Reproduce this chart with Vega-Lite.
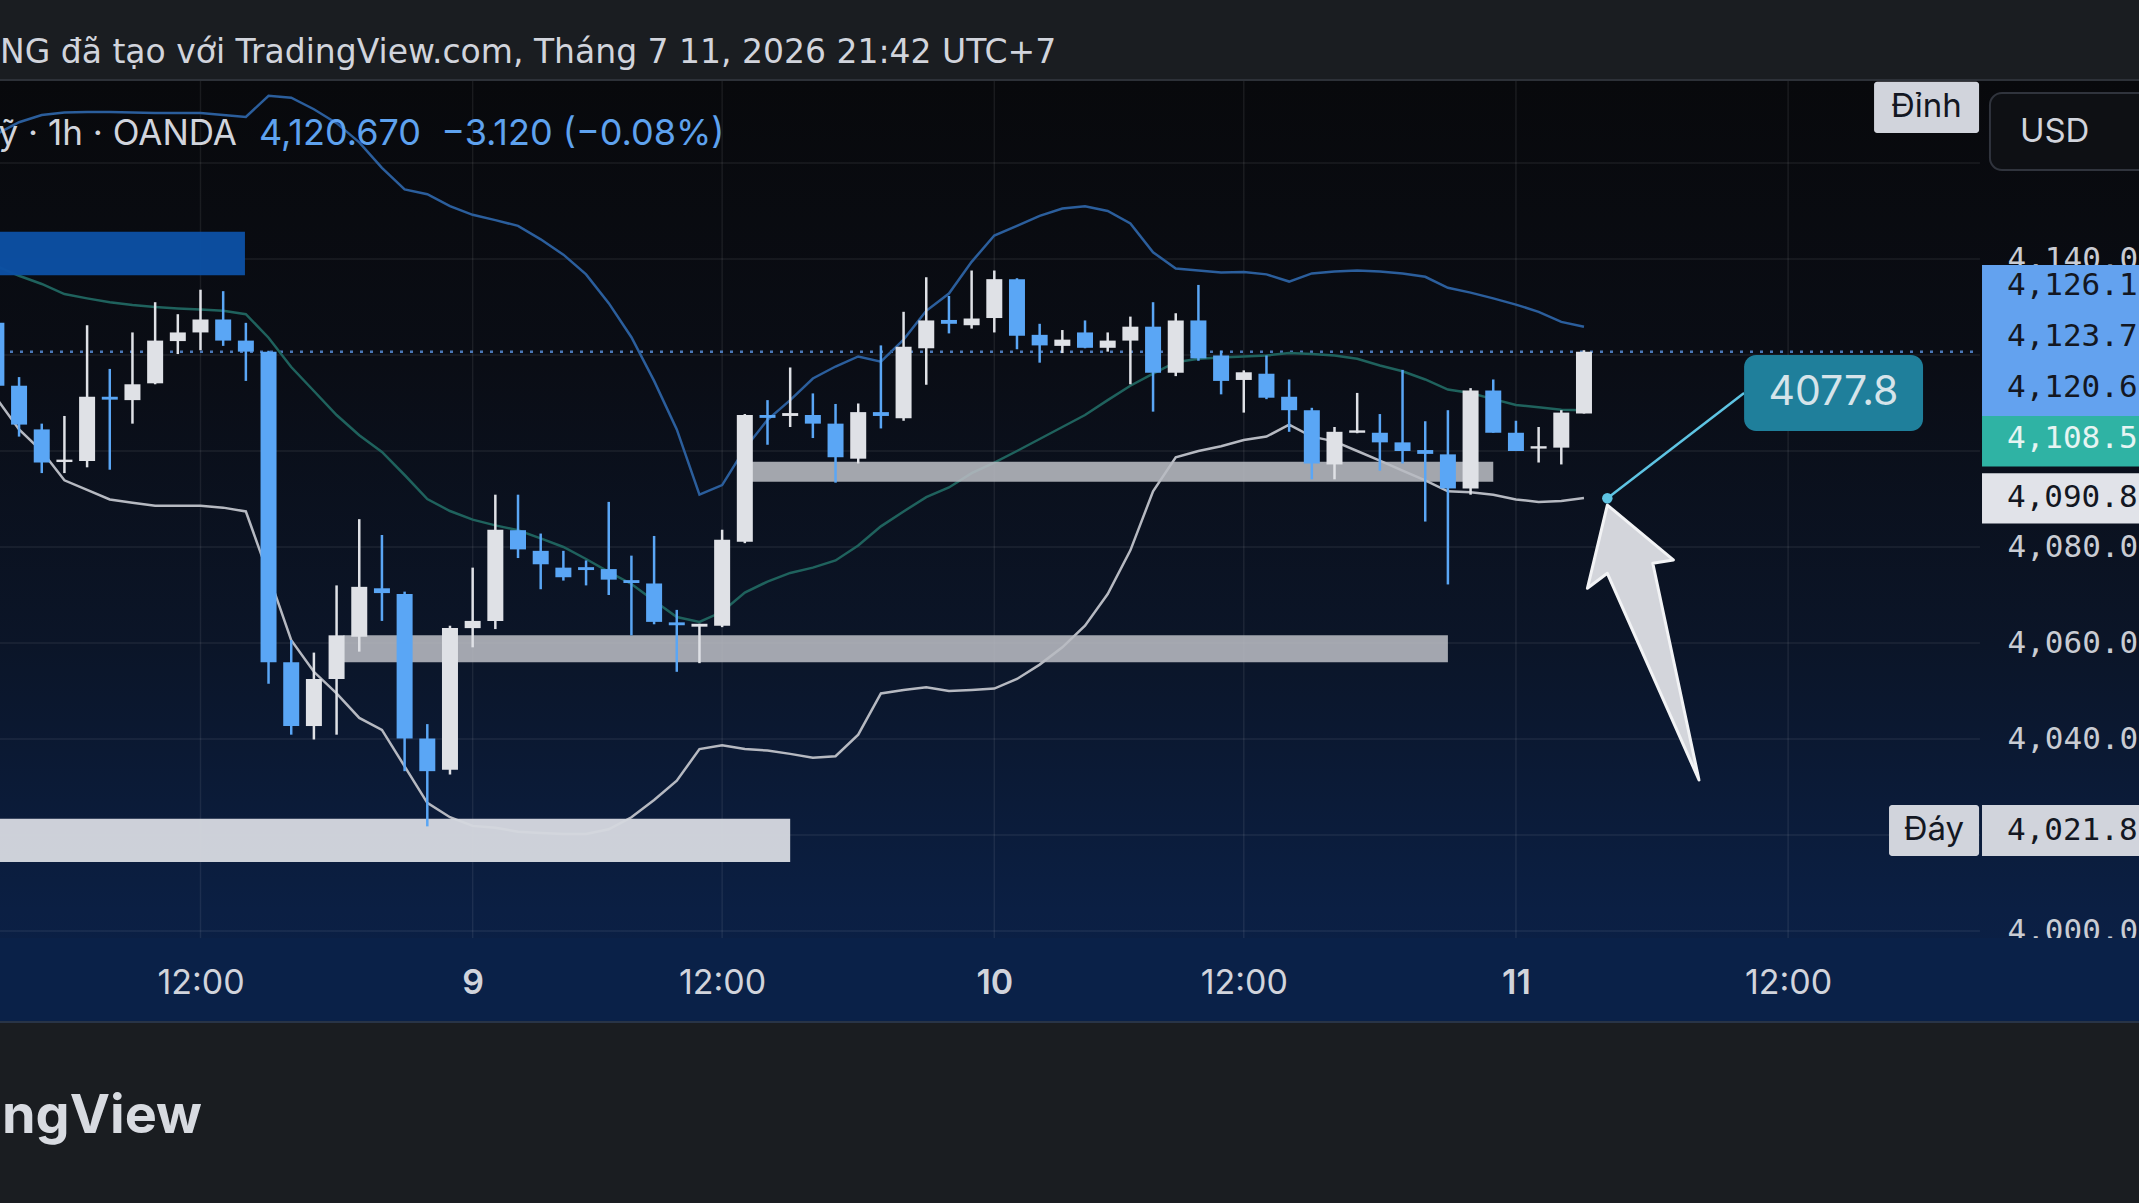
{
 "$schema": "https://vega.github.io/schema/vega-lite/v6.json",
 "width": 2139, "height": 942,
 "autosize": "none",
 "padding": {"left": 0, "top": 80, "right": 0, "bottom": 181},
 "background": "#1a1d21",
 "config": {
  "view": {"stroke": null, "fill": {"gradient": "linear", "x1": 0, "y1": 0, "x2": 0, "y2": 1,
    "stops": [{"offset": 0, "color": "#08090c"}, {"offset": 0.3, "color": "#0a0d15"}, {"offset": 0.6, "color": "#0b1528"}, {"offset": 0.88, "color": "#0b1f43"}, {"offset": 1, "color": "#0a2148"}]}},
  "axis": {"titleColor": "rgba(0,0,0,0)", "titleFontSize": 1},
  "text": {"font": "Inter"}
 },
 "datasets": {
  "bars": [
   {"i":-9,"o":4126.7,"h":4128.0,"l":4112.8,"c":4113.6,"u":4166.0,"m":4138.5,"b":4111.0},
   {"i":-8,"o":4113.6,"h":4115.4,"l":4103.0,"c":4105.5,"u":4168.5,"m":4136.5,"b":4104.5},
   {"i":-7,"o":4104.5,"h":4105.7,"l":4095.4,"c":4097.6,"u":4170.0,"m":4134.8,"b":4100.0},
   {"i":-6,"o":4097.7,"h":4107.3,"l":4095.4,"c":4098.2,"u":4170.5,"m":4132.7,"b":4093.9},
   {"i":-5,"o":4097.9,"h":4126.2,"l":4096.6,"c":4111.3,"u":4170.6,"m":4131.8,"b":4091.9},
   {"i":-4,"o":4111.3,"h":4117.1,"l":4096.1,"c":4110.7,"u":4170.6,"m":4131.0,"b":4089.9},
   {"i":-3,"o":4110.6,"h":4124.7,"l":4105.7,"c":4113.9,"u":4170.5,"m":4130.4,"b":4089.2},
   {"i":-2,"o":4114.1,"h":4131.0,"l":4113.9,"c":4123.0,"u":4170.4,"m":4130.0,"b":4088.6},
   {"i":-1,"o":4122.9,"h":4128.5,"l":4120.2,"c":4124.7,"u":4170.4,"m":4129.7,"b":4088.6},
   {"i":0,"o":4124.7,"h":4133.6,"l":4121.0,"c":4127.4,"u":4170.4,"m":4129.5,"b":4088.6},
   {"i":1,"o":4127.4,"h":4133.3,"l":4121.9,"c":4123.0,"u":4170.0,"m":4129.2,"b":4088.2},
   {"i":2,"o":4123.0,"h":4126.7,"l":4114.6,"c":4120.7,"u":4169.6,"m":4128.5,"b":4087.4},
   {"i":3,"o":4120.7,"h":4120.9,"l":4051.5,"c":4056.0,"u":4174.0,"m":4123.6,"b":4074.2},
   {"i":4,"o":4056.0,"h":4060.6,"l":4040.9,"c":4042.7,"u":4173.6,"m":4117.5,"b":4060.6},
   {"i":5,"o":4042.7,"h":4058.0,"l":4039.9,"c":4052.5,"u":4171.2,"m":4112.5,"b":4054.0},
   {"i":6,"o":4052.5,"h":4072.0,"l":4040.9,"c":4061.6,"u":4168.3,"m":4107.5,"b":4049.5},
   {"i":7,"o":4061.3,"h":4085.8,"l":4058.2,"c":4071.7,"u":4164.3,"m":4103.3,"b":4044.4},
   {"i":8,"o":4071.4,"h":4082.5,"l":4064.6,"c":4070.4,"u":4159.0,"m":4099.8,"b":4041.9},
   {"i":9,"o":4070.2,"h":4070.7,"l":4033.3,"c":4040.1,"u":4154.5,"m":4095.0,"b":4034.3},
   {"i":10,"o":4040.1,"h":4043.1,"l":4021.8,"c":4033.3,"u":4153.5,"m":4090.0,"b":4026.7},
   {"i":11,"o":4033.6,"h":4063.6,"l":4032.6,"c":4063.1,"u":4151.0,"m":4087.5,"b":4023.7},
   {"i":12,"o":4063.1,"h":4075.7,"l":4059.1,"c":4064.6,"u":4149.2,"m":4085.7,"b":4021.9},
   {"i":13,"o":4064.6,"h":4090.9,"l":4062.9,"c":4083.6,"u":4148.1,"m":4084.5,"b":4021.5},
   {"i":14,"o":4083.5,"h":4090.9,"l":4077.7,"c":4079.5,"u":4146.9,"m":4083.5,"b":4020.7},
   {"i":15,"o":4079.2,"h":4082.8,"l":4071.2,"c":4076.4,"u":4144.1,"m":4081.8,"b":4020.4},
   {"i":16,"o":4075.7,"h":4079.2,"l":4073.0,"c":4073.7,"u":4140.9,"m":4080.0,"b":4020.2},
   {"i":17,"o":4075.8,"h":4077.2,"l":4072.0,"c":4075.2,"u":4136.8,"m":4077.5,"b":4020.2},
   {"i":18,"o":4075.4,"h":4089.4,"l":4070.0,"c":4073.2,"u":4130.8,"m":4074.8,"b":4021.2},
   {"i":19,"o":4073.1,"h":4078.2,"l":4061.6,"c":4072.5,"u":4123.7,"m":4072.3,"b":4023.7},
   {"i":20,"o":4072.4,"h":4082.3,"l":4063.9,"c":4064.4,"u":4114.6,"m":4068.8,"b":4027.3},
   {"i":21,"o":4064.3,"h":4066.9,"l":4054.0,"c":4063.7,"u":4104.5,"m":4065.4,"b":4031.3},
   {"i":22,"o":4063.4,"h":4064.0,"l":4055.8,"c":4064.0,"u":4090.9,"m":4064.4,"b":4037.9},
   {"i":23,"o":4063.6,"h":4083.6,"l":4063.3,"c":4081.5,"u":4092.9,"m":4066.5,"b":4038.7},
   {"i":24,"o":4081.1,"h":4107.7,"l":4080.8,"c":4107.5,"u":4100.5,"m":4070.5,"b":4037.9},
   {"i":25,"o":4107.5,"h":4110.6,"l":4101.3,"c":4106.9,"u":4106.5,"m":4072.8,"b":4037.6},
   {"i":26,"o":4107.3,"h":4117.4,"l":4105.0,"c":4107.9,"u":4110.6,"m":4074.6,"b":4036.9},
   {"i":27,"o":4107.5,"h":4112.0,"l":4102.7,"c":4105.7,"u":4115.1,"m":4075.7,"b":4036.1},
   {"i":28,"o":4105.7,"h":4109.8,"l":4093.4,"c":4098.7,"u":4117.6,"m":4077.2,"b":4036.4},
   {"i":29,"o":4098.4,"h":4109.9,"l":4097.4,"c":4108.1,"u":4119.7,"m":4080.3,"b":4040.9},
   {"i":30,"o":4108.1,"h":4122.0,"l":4104.7,"c":4107.3,"u":4118.6,"m":4084.3,"b":4049.5},
   {"i":31,"o":4106.8,"h":4129.0,"l":4106.3,"c":4121.7,"u":4123.2,"m":4087.4,"b":4050.2},
   {"i":32,"o":4121.4,"h":4136.2,"l":4113.8,"c":4127.2,"u":4129.2,"m":4090.4,"b":4050.8},
   {"i":33,"o":4127.3,"h":4132.3,"l":4124.5,"c":4126.5,"u":4132.8,"m":4092.4,"b":4050.0},
   {"i":34,"o":4126.2,"h":4137.6,"l":4125.5,"c":4127.6,"u":4139.4,"m":4095.4,"b":4050.2},
   {"i":35,"o":4127.7,"h":4137.6,"l":4124.7,"c":4135.8,"u":4144.9,"m":4097.6,"b":4050.5},
   {"i":36,"o":4135.8,"h":4136.0,"l":4121.2,"c":4124.0,"u":4146.9,"m":4100.0,"b":4052.5},
   {"i":37,"o":4124.2,"h":4126.5,"l":4118.4,"c":4122.0,"u":4149.0,"m":4102.5,"b":4055.5},
   {"i":38,"o":4121.9,"h":4125.2,"l":4120.4,"c":4123.2,"u":4150.5,"m":4105.0,"b":4059.1},
   {"i":39,"o":4124.7,"h":4127.2,"l":4121.4,"c":4121.5,"u":4151.0,"m":4107.5,"b":4063.6},
   {"i":40,"o":4121.5,"h":4124.7,"l":4120.7,"c":4123.0,"u":4150.0,"m":4110.6,"b":4070.2},
   {"i":41,"o":4123.0,"h":4128.0,"l":4113.9,"c":4125.9,"u":4147.4,"m":4113.6,"b":4079.3},
   {"i":42,"o":4125.9,"h":4131.0,"l":4108.2,"c":4116.3,"u":4141.4,"m":4116.1,"b":4091.6},
   {"i":43,"o":4116.3,"h":4128.7,"l":4115.6,"c":4127.2,"u":4138.0,"m":4118.5,"b":4098.7},
   {"i":44,"o":4127.2,"h":4134.6,"l":4118.8,"c":4119.3,"u":4137.6,"m":4119.2,"b":4100.0},
   {"i":45,"o":4119.9,"h":4120.9,"l":4111.8,"c":4114.6,"u":4137.2,"m":4119.5,"b":4101.0},
   {"i":46,"o":4114.8,"h":4116.8,"l":4108.0,"c":4116.4,"u":4137.3,"m":4119.7,"b":4102.3},
   {"i":47,"o":4116.1,"h":4119.9,"l":4110.8,"c":4111.1,"u":4136.8,"m":4119.9,"b":4103.0},
   {"i":48,"o":4111.3,"h":4114.9,"l":4104.0,"c":4108.5,"u":4135.3,"m":4120.4,"b":4105.5},
   {"i":49,"o":4108.5,"h":4109.0,"l":4094.1,"c":4097.4,"u":4137.0,"m":4120.2,"b":4103.0},
   {"i":50,"o":4097.2,"h":4105.0,"l":4094.1,"c":4104.0,"u":4137.4,"m":4119.9,"b":4102.0},
   {"i":51,"o":4103.8,"h":4112.1,"l":4103.7,"c":4104.3,"u":4137.6,"m":4119.2,"b":4100.0},
   {"i":52,"o":4103.8,"h":4107.7,"l":4095.9,"c":4101.8,"u":4137.4,"m":4117.8,"b":4098.0},
   {"i":53,"o":4101.8,"h":4116.9,"l":4097.4,"c":4100.0,"u":4137.0,"m":4116.6,"b":4095.9},
   {"i":54,"o":4100.2,"h":4106.2,"l":4085.3,"c":4099.4,"u":4136.3,"m":4114.9,"b":4093.9},
   {"i":55,"o":4099.3,"h":4108.5,"l":4072.2,"c":4092.2,"u":4134.0,"m":4112.8,"b":4091.6},
   {"i":56,"o":4092.2,"h":4113.1,"l":4090.9,"c":4112.6,"u":4133.0,"m":4112.1,"b":4091.4},
   {"i":57,"o":4112.6,"h":4114.9,"l":4103.8,"c":4103.8,"u":4131.8,"m":4110.8,"b":4090.9},
   {"i":58,"o":4103.8,"h":4106.3,"l":4100.0,"c":4100.0,"u":4130.5,"m":4109.6,"b":4089.9},
   {"i":59,"o":4100.5,"h":4105.0,"l":4097.6,"c":4101.0,"u":4129.0,"m":4109.1,"b":4089.4},
   {"i":60,"o":4100.7,"h":4108.5,"l":4097.2,"c":4108.0,"u":4126.9,"m":4108.6,"b":4089.6},
   {"i":61,"o":4107.8,"h":4121.0,"l":4107.8,"c":4120.67,"u":4125.9,"m":4108.5,"b":4090.2}
  ],
  "zones": [
   {"x1": -10, "x2": 1.96, "top": 4145.7, "bot": 4136.6, "k": "blue"},
   {"x1": 24.0, "x2": 57.0, "top": 4097.75, "bot": 4093.6, "k": "gray"},
   {"x1": 6.3, "x2": 55.0, "top": 4061.6, "bot": 4056.0, "k": "gray"},
   {"x1": -10, "x2": 26.0, "top": 4023.4, "bot": 4014.4, "k": "white"}
  ],
  "tags": [
   {"t": "4,126.1", "top": 4138.75, "bot": 4128.33, "mid": 4134.4, "k": "blue"},
   {"t": "4,123.7", "top": 4128.33, "bot": 4117.71, "mid": 4123.75, "k": "blue"},
   {"t": "4,120.6", "top": 4117.71, "bot": 4107.29, "mid": 4113.1, "k": "blue"},
   {"t": "4,108.5", "top": 4107.29, "bot": 4096.79, "mid": 4102.6, "k": "teal"},
   {"t": "4,090.8", "top": 4095.35, "bot": 4084.9, "mid": 4090.2, "k": "white"},
   {"t": "4,021.8", "top": 4026.25, "bot": 4015.63, "mid": 4020.9, "k": "gray"}
  ]
 },
 "layer": [
  {
   "data": {"name": "bars"},
   "mark": {"type": "point", "opacity": 0},
   "encoding": {
    "x": {"field": "i", "type": "quantitative",
      "scale": {"domain": [-8.8404, 85.4718], "nice": false, "zero": false},
      "axis": {"orient": "bottom", "offset": -39, "values": [0, 12, 23, 35, 46, 58, 70],
        "labelExpr": "datum.value == 12 ? '9' : datum.value == 35 ? '10' : datum.value == 58 ? '11' : '12:00'",
        "domain": false, "ticks": false, "grid": false, "labelPadding": 0, "labelBaseline": "middle",
        "labelFont": "Inter", "labelFontSize": 34, "labelColor": "#d1d4dc",
        "labelFontWeight": {"condition": {"test": "datum.value == 12 || datum.value == 35 || datum.value == 58", "value": 600}, "value": 400},
        "title": null, "zindex": 1, "labelOverlap": false, "labelFlush": false}},
    "y": {"field": "o", "type": "quantitative",
      "scale": {"domain": [3981.0417, 4177.2917], "nice": false, "zero": false},
      "axis": {"orient": "right", "offset": -159, "values": [4000, 4040, 4060, 4080, 4140], "format": ",.1f",
        "domain": false, "ticks": false, "grid": false, "labelPadding": 27, "labelAlign": "left", "labelBaseline": "middle",
        "labelFont": "DejaVu Sans Mono", "labelFontSize": 31, "labelColor": "#c9ccd3",
        "title": null, "zindex": 0, "labelOverlap": false, "labelFlush": false}}
   }
  },
  {
   "data": {"values": [{"p": 4000}, {"p": 4020}, {"p": 4040}, {"p": 4060}, {"p": 4080}, {"p": 4100}, {"p": 4120}, {"p": 4140}, {"p": 4160}]},
   "mark": {"type": "rule", "color": "#ffffff", "opacity": 0.075, "strokeWidth": 1.5},
   "encoding": {
    "x": {"datum": -8.8404, "type": "quantitative"},
    "x2": {"datum": 78.46},
    "y": {"field": "p", "type": "quantitative"}
   }
  },
  {
   "data": {"values": [{"t": 0}, {"t": 12}, {"t": 23}, {"t": 35}, {"t": 46}, {"t": 58}, {"t": 70}]},
   "mark": {"type": "rule", "color": "#ffffff", "opacity": 0.075, "strokeWidth": 1.5},
   "encoding": {
    "x": {"field": "t", "type": "quantitative"},
    "y": {"datum": 3998.54, "type": "quantitative"},
    "y2": {"datum": 4177.29}
   }
  },
  {
   "data": {"values": [{}]},
   "mark": {"type": "rule", "color": "#4a78b8", "strokeWidth": 2.5, "strokeDash": [3, 7]},
   "encoding": {
    "x": {"datum": -8.8404, "type": "quantitative"},
    "x2": {"datum": 78.46},
    "y": {"datum": 4120.67, "type": "quantitative"}
   }
  },
  {
   "data": {"name": "bars"},
   "mark": {"type": "line", "color": "#2b5e9c", "strokeWidth": 2.5},
   "encoding": {
    "x": {"field": "i", "type": "quantitative"},
    "y": {"field": "u", "type": "quantitative"}
   }
  },
  {
   "data": {"name": "bars"},
   "mark": {"type": "line", "color": "#1f625d", "strokeWidth": 2.5},
   "encoding": {
    "x": {"field": "i", "type": "quantitative"},
    "y": {"field": "m", "type": "quantitative"}
   }
  },
  {
   "data": {"name": "bars"},
   "mark": {"type": "line", "color": "#b6b9c1", "strokeWidth": 2.5},
   "encoding": {
    "x": {"field": "i", "type": "quantitative"},
    "y": {"field": "b", "type": "quantitative"}
   }
  },
  {
   "data": {"name": "zones"},
   "mark": {"type": "rect"},
   "encoding": {
    "x": {"field": "x1", "type": "quantitative"},
    "x2": {"field": "x2"},
    "y": {"field": "top", "type": "quantitative"},
    "y2": {"field": "bot"},
    "color": {"condition": [{"test": "datum.k == 'blue'", "value": "#0c4fa3"}, {"test": "datum.k == 'gray'", "value": "#b8bbc2"}], "value": "#d4d7de"},
    "opacity": {"condition": {"test": "datum.k == 'gray'", "value": 0.88}, "value": 0.97}
   }
  },
  {
   "data": {"name": "bars"},
   "mark": {"type": "rule", "strokeWidth": 2.5},
   "encoding": {
    "x": {"field": "i", "type": "quantitative"},
    "y": {"field": "l", "type": "quantitative"},
    "y2": {"field": "h"},
    "color": {"condition": {"test": "datum.c >= datum.o", "value": "#dfe1e6"}, "value": "#5aa6f5"}
   }
  },
  {
   "data": {"name": "bars"},
   "mark": {"type": "rule", "strokeWidth": 16},
   "encoding": {
    "x": {"field": "i", "type": "quantitative"},
    "y": {"field": "o", "type": "quantitative"},
    "y2": {"field": "c"},
    "color": {"condition": {"test": "datum.c >= datum.o", "value": "#dfe1e6"}, "value": "#5aa6f5"}
   }
  },
  {
   "data": {"values": [{}]},
   "mark": {"type": "point", "shape": "M0,0.045L0.44,0.411L0.303,0.433L0.611,1.878L0,0.5L-0.133,0.6Z", "size": 90000, "filled": true, "fill": "#d3d5db", "stroke": "#f2f3f5", "strokeWidth": 3, "strokeJoin": "round", "opacity": 1},
   "encoding": {
    "x": {"datum": 62.03, "type": "quantitative"},
    "y": {"datum": 4090.15, "type": "quantitative"}
   }
  },
  {
   "data": {"values": [{}]},
   "mark": {"type": "rule", "color": "#5ec4e3", "strokeWidth": 2.5},
   "encoding": {
    "x": {"datum": 62.03, "type": "quantitative"},
    "y": {"datum": 4090.15, "type": "quantitative"},
    "x2": {"datum": 68.06},
    "y2": {"datum": 4112.08}
   }
  },
  {
   "data": {"values": [{}]},
   "mark": {"type": "point", "filled": true, "color": "#5ec4e3", "size": 110, "opacity": 1},
   "encoding": {
    "x": {"datum": 62.03, "type": "quantitative"},
    "y": {"datum": 4090.15, "type": "quantitative"}
   }
  },
  {
   "data": {"values": [{}]},
   "mark": {"type": "rect", "color": "#1f7f9b", "cornerRadius": 12},
   "encoding": {
    "x": {"datum": 68.06, "type": "quantitative"},
    "x2": {"datum": 75.95},
    "y": {"datum": 4120.0, "type": "quantitative"},
    "y2": {"datum": 4104.17}
   }
  },
  {
   "data": {"values": [{}]},
   "mark": {"type": "text", "text": "4077.8", "font": "Inter", "fontSize": 41, "color": "#d6e4ea", "align": "center", "baseline": "middle"},
   "encoding": {
    "x": {"datum": 72.0, "type": "quantitative"},
    "y": {"datum": 4112.08, "type": "quantitative"}
   }
  },
  {
   "data": {"name": "tags"},
   "mark": {"type": "rect"},
   "encoding": {
    "x": {"datum": 78.55, "type": "quantitative"},
    "x2": {"datum": 86.5},
    "y": {"field": "top", "type": "quantitative"},
    "y2": {"field": "bot"},
    "color": {"condition": [{"test": "datum.k == 'blue'", "value": "#63a2ef"}, {"test": "datum.k == 'teal'", "value": "#2fb3a4"}, {"test": "datum.k == 'white'", "value": "#e1e3e9"}], "value": "#d1d4dc"}
   }
  },
  {
   "data": {"name": "tags"},
   "mark": {"type": "text", "font": "DejaVu Sans Mono", "fontSize": 31, "align": "left", "baseline": "middle"},
   "encoding": {
    "x": {"datum": 79.65, "type": "quantitative"},
    "y": {"field": "mid", "type": "quantitative"},
    "text": {"field": "t"},
    "color": {"condition": {"test": "datum.k == 'teal'", "value": "#e6f4f2"}, "value": "#131722"}
   }
  },
  {
   "data": {"values": [{}]},
   "mark": {"type": "rect", "color": "#d1d4dc", "cornerRadius": 3},
   "encoding": {
    "x": {"datum": 73.79, "type": "quantitative"},
    "x2": {"datum": 78.42},
    "y": {"datum": 4176.92, "type": "quantitative"},
    "y2": {"datum": 4166.27}
   }
  },
  {
   "data": {"values": [{}]},
   "mark": {"type": "text", "text": "Đỉnh", "font": "Inter", "fontSize": 33, "color": "#131722", "align": "center", "baseline": "middle"},
   "encoding": {
    "x": {"datum": 76.1, "type": "quantitative"},
    "y": {"datum": 4171.66, "type": "quantitative"}
   }
  },
  {
   "data": {"values": [{}]},
   "mark": {"type": "rect", "color": "#d1d4dc", "cornerRadius": 3},
   "encoding": {
    "x": {"datum": 74.45, "type": "quantitative"},
    "x2": {"datum": 78.42},
    "y": {"datum": 4026.25, "type": "quantitative"},
    "y2": {"datum": 4015.63}
   }
  },
  {
   "data": {"values": [{}]},
   "mark": {"type": "text", "text": "Đáy", "font": "Inter", "fontSize": 33, "color": "#131722", "align": "center", "baseline": "middle"},
   "encoding": {
    "x": {"datum": 76.43, "type": "quantitative"},
    "y": {"datum": 4020.94, "type": "quantitative"}
   }
  },
  {
   "data": {"values": [{}]},
   "mark": {"type": "rect", "fill": "#0e1014", "stroke": "#30343d", "strokeWidth": 2, "cornerRadius": 12},
   "encoding": {
    "x": {"datum": 78.9, "type": "quantitative"},
    "x2": {"datum": 86.4},
    "y": {"datum": 4174.58, "type": "quantitative"},
    "y2": {"datum": 4158.54}
   }
  },
  {
   "data": {"values": [{}]},
   "mark": {"type": "text", "text": "USD", "font": "Inter", "fontSize": 33, "color": "#d1d4dc", "align": "left", "baseline": "middle"},
   "encoding": {
    "x": {"datum": 80.22, "type": "quantitative"},
    "y": {"datum": 4166.56, "type": "quantitative"}
   }
  },
  {
   "data": {"values": [{}]},
   "mark": {"type": "rect", "color": "#0a2148"},
   "encoding": {
    "x": {"datum": -10, "type": "quantitative"},
    "x2": {"datum": 90},
    "y": {"datum": 3998.54, "type": "quantitative"},
    "y2": {"datum": 3981.0417}
   }
  },
  {
   "data": {"values": [{}]},
   "mark": {"type": "rule", "color": "#2d3138", "strokeWidth": 2},
   "encoding": {
    "x": {"datum": -10, "type": "quantitative"},
    "x2": {"datum": 90},
    "y": {"datum": 4177.2917, "type": "quantitative"}
   }
  },
  {
   "data": {"values": [{}]},
   "mark": {"type": "rule", "color": "#283447", "strokeWidth": 2},
   "encoding": {
    "x": {"datum": -10, "type": "quantitative"},
    "x2": {"datum": 90},
    "y": {"datum": 3981.0417, "type": "quantitative"}
   }
  },
  {
   "data": {"values": [{}]},
   "mark": {"type": "text", "text": "NG đã tạo với TradingView.com, Tháng 7 11, 2026 21:42 UTC+7", "font": "DejaVu Sans", "fontSize": 33, "color": "#d1d4dc", "align": "left", "baseline": "middle"},
   "encoding": {
    "x": {"datum": -8.8404, "type": "quantitative"},
    "y": {"datum": 4182.92, "type": "quantitative"}
   }
  },
  {
   "data": {"values": [{}]},
   "mark": {"type": "text", "text": "Vàng / Đô la Mỹ · 1h · OANDA", "font": "Inter", "fontSize": 35, "color": "#d1d4dc", "align": "right", "baseline": "middle"},
   "encoding": {
    "x": {"datum": 1.61, "type": "quantitative"},
    "y": {"datum": 4166.0, "type": "quantitative"}
   }
  },
  {
   "data": {"values": [{}]},
   "mark": {"type": "text", "text": "4,120.670\u00a0\u00a0−3.120 (−0.08%)", "font": "Inter", "fontSize": 36, "color": "#5ea2ef", "align": "left", "baseline": "middle"},
   "encoding": {
    "x": {"datum": 2.58, "type": "quantitative"},
    "y": {"datum": 4166.0, "type": "quantitative"}
   }
  },
  {
   "data": {"values": [{}]},
   "mark": {"type": "text", "text": "TradingView", "font": "Inter", "fontSize": 54, "fontWeight": 700, "color": "#d8dbe1", "align": "right", "baseline": "alphabetic"},
   "encoding": {
    "x": {"datum": 0.066, "type": "quantitative"},
    "y": {"datum": 3957.92, "type": "quantitative"}
   }
  }
 ]
}
